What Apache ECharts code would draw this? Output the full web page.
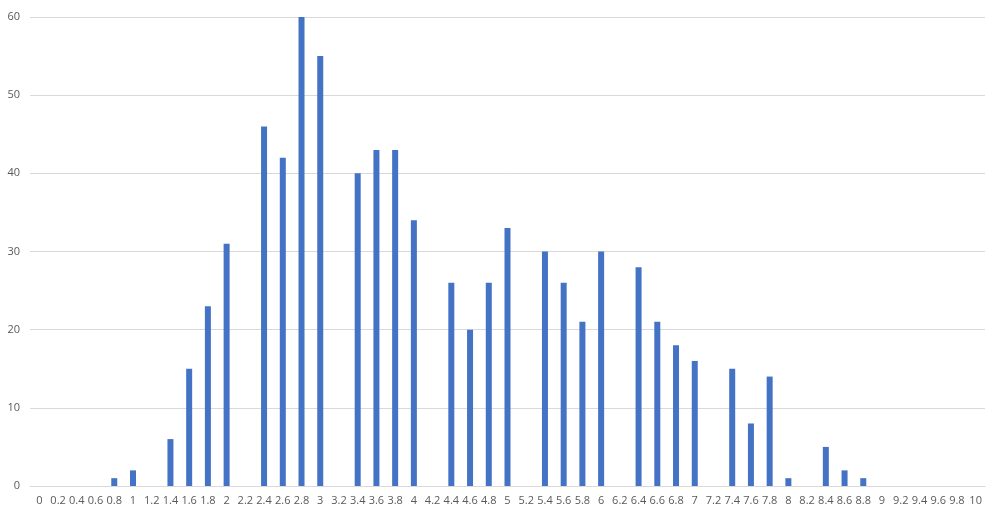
<!DOCTYPE html>
<html>
<head>
<meta charset="utf-8">
<script src="https://cdn.jsdelivr.net/npm/echarts@6/dist/echarts.min.js"></script>
<style>
  html, body { margin: 0; padding: 0; background: #fff; }
  #chart { width: 1000px; height: 511px; }
</style>
</head>
<body>
<div id="chart"></div>
<script>
const categories = ['0','0.2','0.4','0.6','0.8','1','1.2','1.4','1.6','1.8','2','2.2','2.4','2.6','2.8','3','3.2','3.4','3.6','3.8','4','4.2','4.4','4.6','4.8','5','5.2','5.4','5.6','5.8','6','6.2','6.4','6.6','6.8','7','7.2','7.4','7.6','7.8','8','8.2','8.4','8.6','8.8','9','9.2','9.4','9.6','9.8','10']
const counts = [0,0,0,0,1,2,0,6,15,23,31,0,46,42,60,55,0,40,43,43,34,0,26,20,26,33,0,30,26,21,30,0,28,21,18,16,0,15,8,14,1,0,5,2,1,0,0,0,0,0,0]
const yTicks = [0, 10, 20, 30, 40, 50, 60]

const chart = echarts.init(document.getElementById('chart'))
const labelFont = { color: '#595959', fontSize: 11, fontFamily: 'Open Sans' }

chart.setOption({
  animation: false,
  grid: { left: 30, right: 15, top: 17, bottom: 25, containLabel: false },
  xAxis: {
    type: 'category',
    data: categories,
    axisLine: { lineStyle: { color: '#d9d9d9' } },
    axisTick: { show: false },
    axisLabel: { ...labelFont, interval: 0, margin: 9 },
  },
  yAxis: {
    type: 'value',
    min: yTicks[0],
    max: yTicks[yTicks.length - 1],
    interval: 10,
    axisLine: { show: false },
    axisTick: { show: false },
    axisLabel: { ...labelFont, margin: 10 },
    splitLine: { lineStyle: { color: '#d9d9d9' } },
  },
  series: [{
    type: 'bar',
    data: counts,
    barWidth: 6,
    itemStyle: { color: '#4472c4' },
  }],
})
</script>
</body>
</html>
